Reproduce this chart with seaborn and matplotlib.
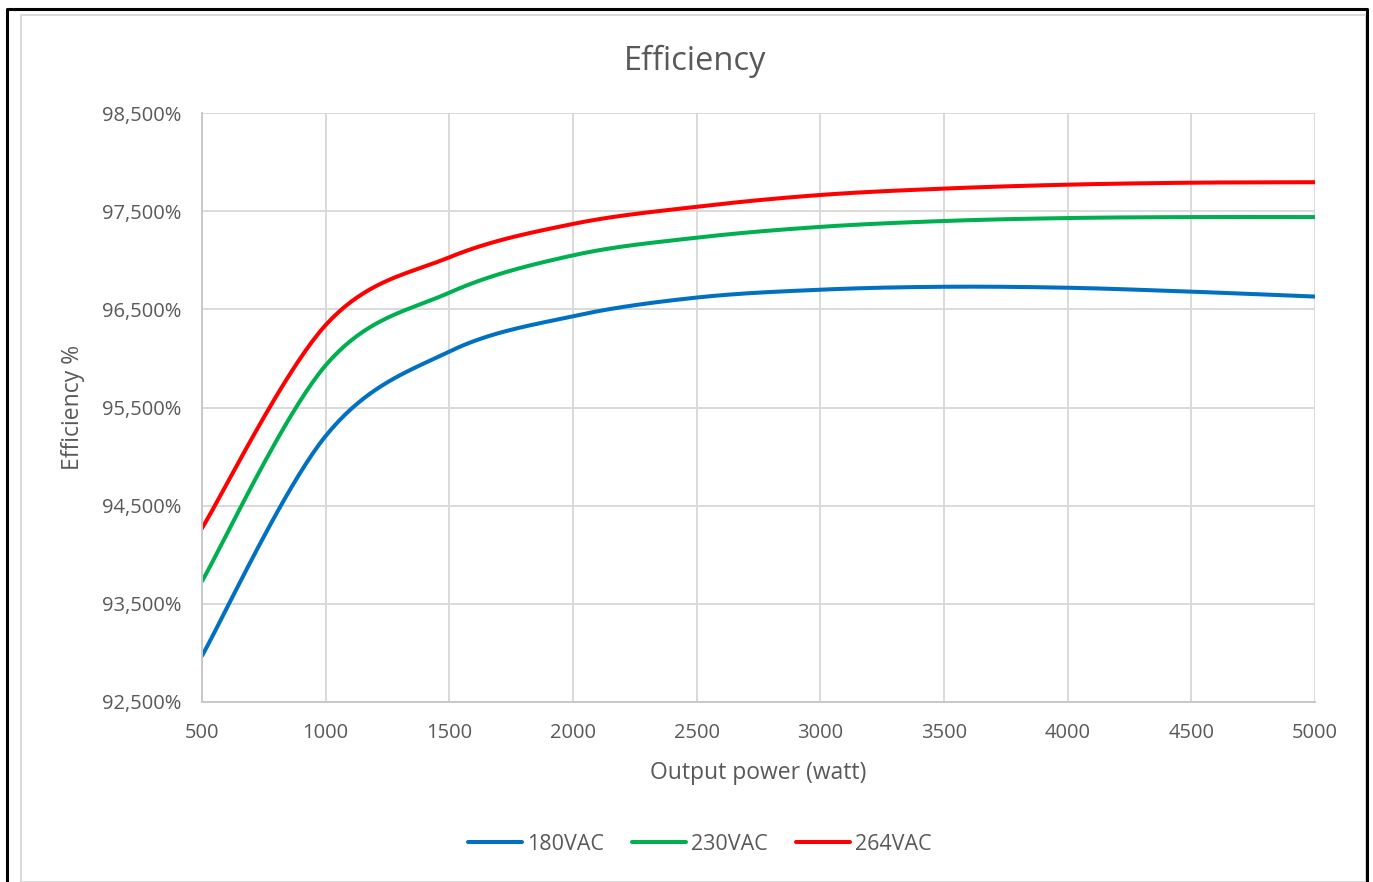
import numpy as np
import pandas as pd
import matplotlib
matplotlib.use("Agg")
import matplotlib.pyplot as plt
import seaborn as sns
from matplotlib.patches import Rectangle
from matplotlib.ticker import FuncFormatter

# ---- data ----
power = [500, 1000, 1500, 2000, 2500, 3000, 3500, 4000, 4500, 5000]
eff_180 = [92.97, 95.21, 96.07, 96.43, 96.62, 96.70, 96.73, 96.72, 96.68, 96.63]
eff_230 = [93.73, 95.93, 96.67, 97.05, 97.23, 97.34, 97.40, 97.43, 97.44, 97.44]
eff_264 = [94.27, 96.34, 97.03, 97.37, 97.545, 97.665, 97.73, 97.77, 97.79, 97.795]
series_names = ["180VAC", "230VAC", "264VAC"]
series_colors = ["#0070C0", "#00B050", "#FF0000"]
y_ticks = [92.5, 93.5, 94.5, 95.5, 96.5, 97.5, 98.5]
x_ticks = [500, 1000, 1500, 2000, 2500, 3000, 3500, 4000, 4500, 5000]


def smooth(xs, ys, n=40):
    """Excel-style smoothed line (Catmull-Rom / Bezier, tension 1/6)."""
    P = np.column_stack([xs, ys]).astype(float)
    P = np.vstack([P[0], P, P[-1]])
    out = []
    t = np.linspace(0, 1, n)[:, None]
    for i in range(1, len(P) - 2):
        p0, p1, p2, p3 = P[i - 1], P[i], P[i + 1], P[i + 2]
        c1 = p1 + (p2 - p0) / 6.0
        c2 = p2 - (p3 - p1) / 6.0
        seg = ((1 - t) ** 3) * p1 + 3 * ((1 - t) ** 2) * t * c1 + 3 * (1 - t) * t ** 2 * c2 + t ** 3 * p2
        out.append(seg if i == 1 else seg[1:])
    return np.vstack(out)


frames = []
for name, vals in zip(series_names, [eff_180, eff_230, eff_264]):
    c = smooth(power, vals)
    frames.append(pd.DataFrame({"power": c[:, 0], "eff": c[:, 1], "series": name}))
df = pd.concat(frames, ignore_index=True)

sns.set_theme(style="white")
plt.rcParams["font.family"] = ["Open Sans", "DejaVu Sans"]
text_color = "#595959"

W, H = 1373, 882
fig = plt.figure(figsize=(W / 100, H / 100), dpi=100)
ax = fig.add_axes([202 / W, (H - 702) / H, 1113 / W, 589 / H])

sns.lineplot(data=df, x="power", y="eff", hue="series", hue_order=series_names,
             palette=series_colors, sort=False, estimator=None, units="series",
             linewidth=2.9, ax=ax, legend=True)

ax.set_xlim(500, 5000)
ax.set_ylim(92.5, 98.5)
ax.set_xticks(x_ticks)
ax.set_yticks(y_ticks)
ax.yaxis.set_major_formatter(FuncFormatter(lambda v, p: f"{v:.3f}%".replace(".", ",")))
ax.grid(True, color="#d9d9d9", linewidth=1.4)
ax.set_axisbelow(True)
for s in ["top", "right"]:
    ax.spines[s].set_visible(False)
for s in ["left", "bottom"]:
    ax.spines[s].set_color("#c8c8c8")
    ax.spines[s].set_linewidth(1.4)
ax.tick_params(axis="both", length=0, labelsize=14.5, labelcolor=text_color)
ax.tick_params(axis="x", pad=15)
ax.tick_params(axis="y", pad=15)
ax.set_xlabel("Output power (watt)", fontsize=16.5, color=text_color, labelpad=13)
ax.set_ylabel("Efficiency %", fontsize=16.5, color=text_color, labelpad=12)

fig.text(695 / W, 1 - 61 / H, "Efficiency", ha="center", va="center", fontsize=23.5, color=text_color)

handles, labels = ax.get_legend_handles_labels()
ax.get_legend().remove()
leg = fig.legend(handles, labels, loc="center", bbox_to_anchor=(700 / W, 1 - 844 / H), ncol=3,
                 frameon=False, fontsize=15.5, handlelength=2.5, handletextpad=0.25, columnspacing=1.3)
for t in leg.get_texts():
    t.set_color(text_color)
for l in leg.get_lines():
    l.set_linewidth(2.9)

# chart frame: light gray chart-area border and black outer border
fig.add_artist(Rectangle((21 / W, 0), (1366 - 21) / W, (H - 15) / H, transform=fig.transFigure,
                         fill=False, edgecolor="#d9d9d9", linewidth=1.4))
fig.add_artist(plt.Line2D([7 / W, 7 / W, 1367 / W, 1367 / W], [0, 1 - 9 / H, 1 - 9 / H, 0],
                          transform=fig.transFigure, color="black", linewidth=2.2))

fig.savefig("out.png", dpi=100)
